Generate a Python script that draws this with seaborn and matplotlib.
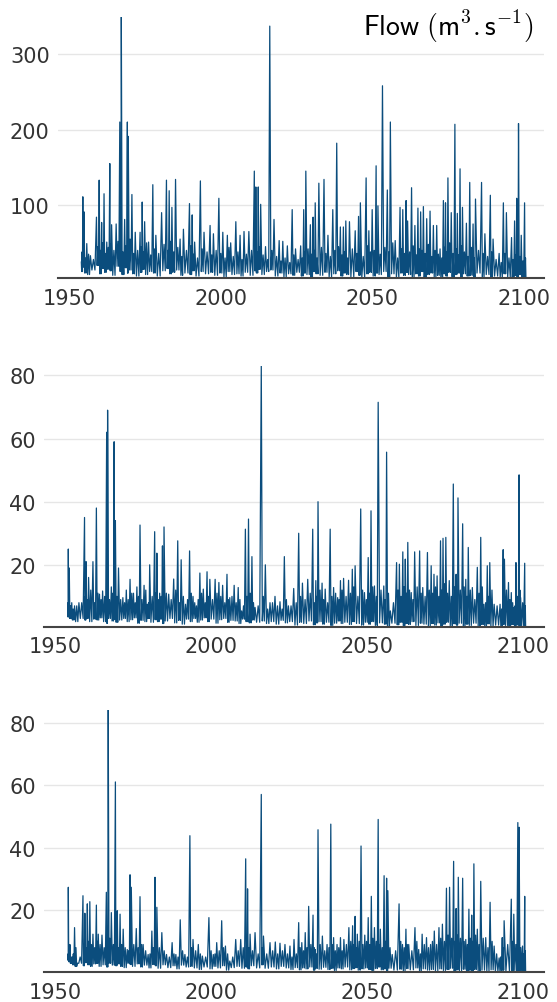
import numpy as np
import pandas as pd
import matplotlib
matplotlib.use('Agg')
import matplotlib.pyplot as plt
import seaborn as sns

# ---------------------------------------------------------------------------
# Dane: szczyty (rok, wartość), a po każdym szczycie
# minimum, mniejszy lokalny szczyt i ponownie minimum
# ---------------------------------------------------------------------------

# Panel 1 (m3/s)
t_peak_1 = [
    1954.0, 1954.5, 1954.9, 1955.8, 1957.0, 1959.0, 1959.9, 1960.7, 1961.5, 1962.4,
    1963.4, 1964.0, 1965.5, 1966.7, 1967.2, 1968.3, 1969.2, 1969.5, 1970.7, 1971.8,
    1973.4, 1974.1, 1974.9, 1976.2, 1977.6, 1978.6, 1980.5, 1982.1, 1983.0, 1983.9,
    1985.1, 1986.6, 1987.7, 1989.7, 1990.6, 1991.4, 1993.3, 1994.5, 1996.5, 1997.6,
    1999.4, 2000.7, 2002.2, 2003.3, 2005.0, 2006.4, 2007.7, 2009.3, 2011.1, 2011.6,
    2012.4, 2013.2, 2014.8, 2016.2, 2017.6, 2019.3, 2020.5, 2022.0, 2023.6, 2024.7,
    2026.4, 2027.4, 2028.1, 2029.6, 2030.5, 2031.2, 2032.4, 2034.1, 2035.4, 2037.0,
    2038.3, 2039.5, 2040.5, 2041.3, 2042.5, 2044.4, 2045.5, 2046.1, 2048.0, 2048.9,
    2050.0, 2051.3, 2051.9, 2053.4, 2055.0, 2056.0, 2057.6, 2059.2, 2060.1, 2061.2,
    2061.7, 2063.0, 2064.1, 2065.1, 2066.0, 2066.9, 2068.0, 2069.1, 2070.2, 2071.3,
    2072.4, 2073.5, 2074.2, 2075.0, 2076.1, 2077.3, 2078.1, 2079.0, 2079.8, 2081.1,
    2082.2, 2083.3, 2084.1, 2086.1, 2087.2, 2089.0, 2089.9, 2091.9, 2093.3, 2094.3,
    2096.0, 2097.0, 2097.7, 2098.3, 2099.2, 2100.3,
]
q_peak_1 = [
    25, 111, 91, 49, 33, 84, 133, 77, 115, 51,
    155, 74, 75, 210, 349, 81, 210, 191, 114, 64,
    64, 104, 78, 51, 127, 60, 90, 133, 119, 97,
    134, 55, 68, 102, 87, 51, 132, 64, 73, 62,
    109, 64, 60, 50, 78, 60, 65, 65, 145, 124,
    124, 101, 45, 337, 81, 53, 52, 46, 94, 42,
    46, 94, 145, 74, 84, 103, 129, 134, 60, 94,
    182, 71, 71, 79, 78, 66, 85, 103, 136, 66,
    94, 152, 99, 258, 120, 210, 53, 97, 94, 106,
    79, 123, 73, 96, 91, 98, 82, 92, 73, 73,
    42, 106, 103, 136, 90, 207, 89, 148, 97, 76,
    130, 75, 108, 130, 62, 113, 55, 36, 103, 90,
    57, 79, 109, 208, 60, 103,
]
q_low_1 = [
    12, 18, 10, 8, 14, 20, 9, 16, 11, 15,
    13, 7, 19, 12, 8, 17, 10, 14, 9, 6,
    11, 15, 8, 12, 10, 6, 13, 16, 9, 11,
    14, 7, 10, 8, 13, 6, 12, 9, 11, 7,
    10, 5, 12, 8, 9, 6, 11, 7, 13, 10,
    15, 8, 12, 14, 6, 10, 5, 9, 7, 11,
    6, 10, 8, 4, 12, 9, 7, 11, 5, 9,
    13, 6, 10, 8, 5, 12, 7, 4, 9, 11,
    6, 10, 8, 12, 5, 9, 4, 10, 7, 11,
    8, 5, 9, 6, 12, 4, 8, 10, 5, 7,
    3, 9, 6, 11, 5, 8, 10, 4, 9, 6,
    7, 4, 10, 5, 8, 3, 6, 4, 9, 5,
    4, 7, 3, 8, 5, 4,
]
q_mid_1 = [
    38, 42, 30, 35, 28, 45, 40, 50, 36, 44,
    48, 40, 52, 45, 38, 46, 42, 55, 36, 40,
    45, 38, 50, 34, 42, 36, 48, 40, 52, 38,
    44, 32, 40, 46, 35, 30, 42, 38, 34, 40,
    36, 30, 44, 32, 38, 28, 35, 40, 42, 38,
    45, 34, 28, 40, 32, 26, 30, 24, 34, 28,
    30, 38, 42, 35, 40, 30, 44, 36, 32, 40,
    45, 34, 38, 30, 42, 36, 40, 32, 46, 38,
    40, 48, 35, 44, 38, 50, 30, 42, 36, 45,
    38, 46, 34, 42, 40, 36, 48, 32, 40, 35,
    30, 44, 38, 50, 36, 42, 34, 46, 38, 32,
    44, 30, 40, 36, 32, 38, 28, 24, 36, 30,
    28, 34, 40, 32, 26, 30,
]

# Panel 2
t_peak_2 = [
    1954.0, 1954.1, 1954.4, 1955.2, 1956.1, 1957.5, 1959.3, 1959.8, 1960.6, 1962.0,
    1963.1, 1964.1, 1965.1, 1966.4, 1966.7, 1967.9, 1968.8, 1969.2, 1970.2, 1971.6,
    1972.7, 1973.9, 1975.0, 1976.1, 1977.1, 1978.4, 1979.5, 1980.2, 1981.8, 1982.5,
    1983.4, 1984.3, 1984.8, 1986.3, 1987.9, 1989.2, 1990.3, 1991.7, 1993.0, 1994.1,
    1995.2, 1996.3, 1997.4, 1998.6, 1999.5, 2001.2, 2002.4, 2003.6, 2005.0, 2005.9,
    2007.3, 2008.6, 2009.7, 2010.9, 2011.9, 2013.0, 2014.0, 2016.0, 2017.3, 2018.8,
    2020.4, 2022.0, 2023.4, 2024.7, 2026.4, 2028.0, 2029.2, 2030.9, 2032.5, 2033.5,
    2034.2, 2035.5, 2036.5, 2038.1, 2039.2, 2040.5, 2041.4, 2042.4, 2044.0, 2045.2,
    2046.1, 2047.9, 2049.1, 2050.3, 2051.2, 2052.3, 2053.5, 2055.3, 2056.2, 2057.4,
    2059.4, 2060.3, 2061.4, 2062.2, 2063.0, 2064.1, 2065.2, 2066.8, 2067.8, 2069.3,
    2070.5, 2071.4, 2072.4, 2073.5, 2074.3, 2075.2, 2076.3, 2077.6, 2078.5, 2079.1,
    2080.6, 2081.6, 2082.4, 2083.7, 2085.3, 2086.4, 2087.4, 2088.5, 2089.3, 2090.7,
    2092.6, 2093.6, 2094.0, 2095.3, 2096.2, 2097.1, 2097.7, 2098.7, 2099.2, 2100.5,
]
q_peak_2 = [
    5, 25, 19, 8, 7, 8, 35, 21, 16, 21,
    38, 10.7, 11.7, 62, 69, 13, 59, 34, 19, 9.6,
    12, 15.4, 11, 13, 32.6, 13.5, 7.5, 20, 30.5, 23.7,
    11, 26, 32, 10.7, 15.5, 27.6, 21.6, 7.5, 24.4, 10,
    7, 17.4, 12.3, 17.8, 15.4, 15.4, 14.4, 13.5, 17, 9.6,
    13.5, 12.8, 5.4, 31.3, 34.5, 22.6, 6.5, 83, 20, 8,
    10, 8.3, 22.6, 7, 12.5, 30, 14.2, 15.4, 31.3, 15,
    40, 14.2, 12.3, 31.3, 12.8, 9.6, 15, 15.7, 15.1, 18.6,
    19.7, 37.7, 11.2, 22.3, 37.1, 13.3, 71.5, 13.3, 55.7, 5.4,
    20.7, 20.2, 24.1, 21.8, 27.1, 11.2, 24.1, 24.4, 12.8, 23.9,
    19.7, 17, 16.5, 27.6, 28.4, 28.7, 15, 45.6, 17, 41.2,
    33, 15.4, 25.5, 12.8, 19.2, 28.7, 7.5, 19.7, 20.7, 7.5,
    7.5, 24.8, 21.8, 14.4, 11.2, 6.5, 20.7, 48.5, 9.6, 20.5,
]
q_low_2 = [
    3.5, 4, 3, 2.5, 2, 3, 2.5, 3, 2, 2.8,
    2.5, 3.2, 2, 1.5, 3, 2.2, 2.8, 1.8, 2.5, 3,
    2, 2.6, 3.2, 1.5, 2.4, 2, 3, 1.8, 2.6, 2,
    2.8, 1.4, 2.2, 3, 1.6, 2.4, 1.2, 2.8, 2, 3,
    1.8, 2.5, 3.2, 2, 2.8, 1.5, 2.6, 3, 1.8, 2.4,
    2.2, 1.4, 2.8, 2, 1.6, 2.5, 1.8, 2.2, 1.4, 2,
    1.2, 2.4, 1.6, 2, 0.9, 1.8, 1.4, 2.2, 1, 1.6,
    2, 1.2, 1.8, 0.8, 1.5, 2.2, 1.4, 1.8, 1.1, 2,
    1.4, 0.9, 1.8, 1.2, 2, 0.8, 1.6, 1.2, 0.6, 1.5,
    1, 1.8, 0.7, 1.4, 1.1, 2, 0.8, 1.5, 1.2, 0.6,
    1.4, 0.9, 1.6, 0.5, 1.2, 1.8, 0.7, 1.3, 0.9, 1.5,
    0.6, 1.2, 0.8, 1.5, 0.5, 1.1, 0.7, 1.3, 0.4, 0.9,
    0.6, 1.2, 0.8, 0.5, 1.1, 0.6, 0.9, 0.5, 0.7, 0.4,
]
q_mid_2 = [
    8, 9, 7, 6, 7, 8, 10, 9, 12, 8,
    11, 9, 10, 12, 9, 11, 8, 10, 9, 8,
    9, 11, 8, 10, 9, 12, 8, 10, 11, 9,
    10, 8, 11, 9, 12, 8, 10, 9, 11, 8,
    9, 11, 8, 10, 9, 11, 10, 8, 9, 10,
    8, 9, 7, 10, 11, 8, 7, 10, 6, 8,
    7, 6, 9, 7, 8, 10, 9, 11, 8, 10,
    12, 9, 8, 10, 11, 9, 12, 10, 11, 13,
    10, 12, 9, 11, 13, 10, 12, 9, 11, 8,
    12, 10, 13, 11, 12, 9, 13, 11, 10, 12,
    11, 13, 10, 12, 14, 11, 10, 13, 11, 12,
    13, 10, 12, 9, 11, 13, 8, 10, 12, 7,
    6, 10, 12, 9, 8, 7, 10, 12, 8, 7,
]

# Panel 3
t_peak_3 = [
    1954.0, 1954.1, 1954.6, 1955.3, 1956.1, 1957.0, 1958.8, 1959.4, 1960.2, 1961.0,
    1962.0, 1963.1, 1963.7, 1964.9, 1966.3, 1966.9, 1967.9, 1969.2, 1969.8, 1970.7,
    1971.7, 1973.0, 1973.9, 1974.3, 1975.9, 1977.1, 1978.1, 1979.7, 1980.9, 1981.9,
    1982.5, 1984.1, 1985.6, 1987.4, 1988.6, 1990.0, 1991.5, 1993.1, 1994.1, 1995.8,
    1997.1, 1999.2, 2000.6, 2001.7, 2003.3, 2004.5, 2005.9, 2007.8, 2009.4, 2011.0,
    2011.6, 2012.4, 2014.0, 2016.0, 2016.7, 2018.8, 2020.5, 2022.0, 2023.6, 2025.2,
    2026.5, 2028.0, 2029.0, 2030.1, 2031.2, 2032.6, 2033.3, 2034.2, 2035.6, 2037.1,
    2038.3, 2039.2, 2040.3, 2041.4, 2042.5, 2044.1, 2045.3, 2046.1, 2046.8, 2048.0,
    2049.2, 2050.3, 2051.3, 2052.3, 2053.5, 2054.2, 2055.4, 2056.2, 2056.6, 2058.0,
    2060.2, 2061.3, 2062.4, 2063.3, 2065.3, 2066.5, 2067.6, 2069.0, 2070.3, 2071.5,
    2073.0, 2074.1, 2075.4, 2076.4, 2077.7, 2078.5, 2079.2, 2080.6, 2081.6, 2082.6,
    2083.5, 2084.2, 2085.3, 2086.4, 2088.0, 2089.4, 2090.7, 2092.3, 2093.3, 2093.9,
    2096.2, 2097.0, 2098.3, 2098.7, 2099.8, 2100.5,
]
q_peak_3 = [
    5, 27.3, 9, 5, 14.4, 3, 24.6, 19, 22, 22.7,
    12.3, 21.6, 12.3, 12, 25.7, 84, 19.2, 61, 19.8, 18.7,
    13.9, 7.4, 31.3, 27.3, 14.1, 24.3, 9, 5.8, 13.3, 30.5,
    20.9, 12.8, 5.8, 9.6, 5.8, 16.9, 5.8, 43.8, 10.6, 9,
    5.3, 17.6, 5.8, 9.6, 16.6, 8.5, 3.7, 10.6, 10.6, 36.4,
    26.8, 12.3, 12.8, 57, 11.7, 9.6, 9.8, 9.4, 9, 8.5,
    10.6, 16, 9.6, 12.8, 21.2, 18.4, 7.4, 45.7, 11.7, 9,
    47.5, 11.2, 9, 11.2, 10.6, 14.4, 15, 18, 12.3, 40.5,
    12, 17.6, 24.4, 14.4, 49, 13.9, 31, 30.2, 26.2, 5.8,
    22, 9, 13.9, 9, 14.4, 7.4, 12.3, 11.2, 9, 13.3,
    14.4, 15.5, 27, 27.3, 35.6, 20.5, 30.5, 30.2, 10.6, 20.3,
    18.4, 34.8, 13.9, 29.2, 11.2, 22.5, 8.5, 4.7, 11.2, 16.6,
    23.5, 18.7, 48, 46.5, 8.5, 24.4,
]
q_low_3 = [
    4, 3.5, 3, 2.5, 2, 3, 2.2, 3.2, 2.5, 2,
    2.8, 3, 2, 2.5, 1.8, 3, 2.4, 2.2, 2.8, 2,
    1.6, 3, 2.6, 2, 2.8, 1.8, 2.4, 1.5, 2.6, 2.2,
    1.4, 2.5, 1.6, 2.2, 1.2, 2.4, 1.8, 2, 1.5, 1,
    1.8, 1.2, 2, 1.5, 2.2, 0.8, 1.6, 2, 1.4, 1.8,
    1.2, 2.2, 1.5, 2.5, 1.4, 1.8, 1.2, 2, 1.5, 1,
    1.6, 0.9, 1.5, 1.2, 1.8, 0.8, 1.4, 1.1, 1.7, 1,
    1.4, 0.7, 1.5, 1.2, 1.8, 0.9, 1.3, 1.6, 0.8, 1.2,
    1.5, 1, 0.7, 1.3, 1.8, 0.9, 1.2, 0.6, 1.4, 0.8,
    1.1, 0.6, 1.3, 0.9, 1.5, 0.5, 1.2, 0.8, 1, 0.6,
    1.2, 0.7, 1, 1.4, 0.5, 0.9, 0.6, 1.1, 0.4, 0.8,
    0.6, 1, 0.4, 0.8, 0.5, 0.9, 0.3, 0.6, 0.8, 0.4,
    0.5, 0.7, 0.3, 0.6, 0.4, 0.2,
]
q_mid_3 = [
    6, 7, 5, 6, 8, 5, 9, 8, 10, 9,
    8, 10, 9, 8, 10, 11, 9, 10, 8, 9,
    8, 7, 10, 9, 8, 9, 7, 6, 8, 9,
    8, 7, 5, 6, 5, 7, 5, 8, 7, 6,
    5, 7, 6, 7, 8, 6, 5, 7, 8, 9,
    8, 7, 6, 8, 6, 7, 6, 7, 6, 5,
    6, 8, 7, 8, 9, 8, 6, 9, 7, 8,
    9, 7, 8, 7, 9, 10, 9, 8, 10, 9,
    10, 9, 11, 10, 9, 8, 10, 9, 8, 7,
    10, 8, 9, 7, 10, 6, 9, 8, 10, 9,
    11, 10, 12, 11, 10, 12, 11, 10, 9, 11,
    10, 12, 9, 11, 8, 10, 6, 5, 8, 9,
    10, 9, 11, 8, 6, 7,
]

END_YEAR = 2100.9
X_RANGE = (1946.3, 2106.7)
LINE_COLOR = '#0b4d7d'
AXIS_COLOR = '#444444'
TEXT_COLOR = '#333333'
GRID_COLOR = '#e6e6e6'


def build_series(t_peak, q_peak, q_low, q_mid):
    """Układa szczyt, minimum, lokalny szczyt, minimum w jeden ciąg (rok, przepływ)."""
    t_peak = np.asarray(t_peak, dtype=float)
    t_next = np.append(t_peak[1:], END_YEAR)
    gap = t_next - t_peak
    t = np.column_stack([t_peak, t_peak + gap / 4, t_peak + gap / 2, t_peak + 3 * gap / 4]).ravel()
    q = np.column_stack([q_peak, q_low, q_mid, q_low]).ravel()
    return pd.DataFrame({'year': t, 'flow': q})


panels = [
    (build_series(t_peak_1, q_peak_1, q_low_1, q_mid_1), [100, 200, 300]),
    (build_series(t_peak_2, q_peak_2, q_low_2, q_mid_2), [20, 40, 60, 80]),
    (build_series(t_peak_3, q_peak_3, q_low_3, q_mid_3), [20, 40, 60, 80]),
]

sns.set_style('white')
plt.rcParams['font.family'] = ['DejaVu Sans']
plt.rcParams['mathtext.fontset'] = 'cm'

fig = plt.figure(figsize=(5.57, 10.03), dpi=100)

# pozycje osi [lewo, dół, szerokość, wysokość] w ułamkach figury
positions = [
    [0.1041, 0.7215, 0.8725, 0.2605],
    [0.0790, 0.3742, 0.8977, 0.2599],
    [0.0790, 0.0299, 0.8977, 0.2612],
]

for (df, yticks), pos in zip(panels, positions):
    ax = fig.add_axes(pos)
    sns.lineplot(data=df, x='year', y='flow', ax=ax, color=LINE_COLOR,
                 linewidth=0.9, estimator=None, sort=False)
    ax.set_xlim(*X_RANGE)
    ax.set_ylim(df['flow'].min(), df['flow'].max())
    ax.set_xticks([1950, 2000, 2050, 2100])
    ax.set_yticks(yticks)
    ax.set_xlabel('')
    ax.set_ylabel('')
    ax.grid(axis='y', color=GRID_COLOR, linewidth=1)
    ax.set_axisbelow(True)
    for side in ['top', 'right', 'left']:
        ax.spines[side].set_visible(False)
    ax.spines['bottom'].set_color(AXIS_COLOR)
    ax.spines['bottom'].set_linewidth(1.5)
    ax.spines['bottom'].set_zorder(5)
    ax.tick_params(axis='x', length=5, width=1.2, color=AXIS_COLOR,
                   labelsize=15, labelcolor=TEXT_COLOR, pad=2)
    ax.tick_params(axis='y', length=0, labelsize=15, labelcolor=TEXT_COLOR, pad=6)

fig.text(0.957, 0.973, r'$\mathsf{Flow\ (m^{3}{.}s^{-1})}$', ha='right', va='center',
         fontsize=20, color='black')

fig.savefig('out.png', dpi=100)
